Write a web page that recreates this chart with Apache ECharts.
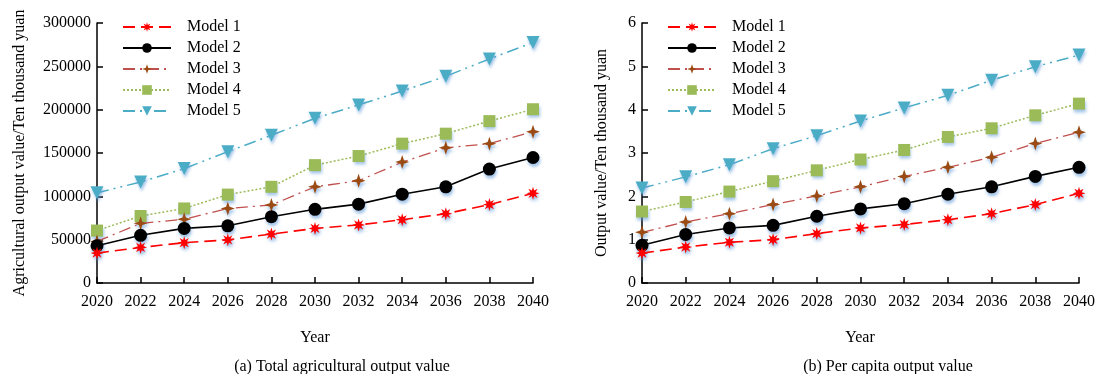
<!DOCTYPE html>
<html><head><meta charset="utf-8">
<script src="https://cdn.jsdelivr.net/npm/echarts@6/dist/echarts.min.js"></script>
<style>html,body{margin:0;padding:0;background:#fff}#c{width:1098px;height:374px}</style>
</head><body><div id="c"></div>
<script>
const years = ['2020','2022','2024','2026','2028','2030','2032','2034','2036','2038','2040'];
const modelNames = ['Model 1','Model 2','Model 3','Model 4','Model 5'];
const totalTicks = [0, 50000, 100000, 150000, 200000, 250000, 300000];
const perTicks = [0, 1, 2, 3, 4, 5, 6];

const totalM1 = [34500, 41000, 46500, 49800, 56500, 63000, 67000, 73000, 80000, 90500, 103500];
const totalM2 = [43000, 55000, 63000, 66000, 76500, 85000, 91000, 102500, 111000, 131500, 144800];
const totalM3 = [48000, 68800, 73500, 86000, 90000, 111000, 118000, 139500, 156000, 160800, 174500];
const totalM4 = [60500, 77300, 86000, 102000, 111000, 136000, 146500, 160800, 172300, 186800, 200500];
const totalM5 = [104000, 116500, 132000, 151500, 170500, 190000, 205500, 221500, 238500, 258500, 277500];

const perM1 = [0.69, 0.83, 0.94, 1.00, 1.14, 1.27, 1.35, 1.46, 1.60, 1.81, 2.07];
const perM2 = [0.87, 1.12, 1.27, 1.33, 1.54, 1.71, 1.83, 2.05, 2.22, 2.46, 2.67];
const perM3 = [1.17, 1.41, 1.60, 1.81, 2.01, 2.22, 2.46, 2.67, 2.90, 3.22, 3.48];
const perM4 = [1.65, 1.87, 2.11, 2.35, 2.60, 2.85, 3.07, 3.37, 3.57, 3.87, 4.14];
const perM5 = [2.19, 2.45, 2.73, 3.10, 3.40, 3.74, 4.04, 4.33, 4.68, 4.99, 5.26];

function starPath(points, inner) {
  let d = '';
  for (let i = 0; i < points * 2; i++) {
    const r = i % 2 === 0 ? 10 : 10 * inner;
    const a = Math.PI * i / points - Math.PI / 2;
    const x = (10 + r * Math.cos(a)).toFixed(2), y = (10 + r * Math.sin(a)).toFixed(2);
    d += (i === 0 ? 'M' : 'L') + x + ' ' + y + ' ';
  }
  return 'path://' + d + 'Z';
}
const star8 = starPath(8, 0.45);
const star4 = starPath(4, 0.35);

const FONT = '"Liberation Serif", "Times New Roman", serif';
const shadow = {shadowColor: 'rgba(90,150,215,0.55)', shadowBlur: 3, shadowOffsetX: 1, shadowOffsetY: 3};

const styles = [
  {color: '#FF0000', lineColor: '#FF0000', type: [12, 6], width: 1.6, symbol: star8, size: 13, rotate: 0},
  {color: '#000000', lineColor: '#000000', type: 'solid', width: 1.6, symbol: 'circle', size: 13, rotate: 0},
  {color: '#9A4A12', lineColor: '#C0504D', type: [12, 5, 2, 5], width: 1.3, symbol: star4, size: 14, rotate: 0},
  {color: '#9BBB59', lineColor: '#9BBB59', type: [2, 2], width: 1.5, symbol: 'rect', size: 12, rotate: 0},
  {color: '#4BACC6', lineColor: '#4BACC6', type: [12, 5, 2, 5, 2, 5], width: 1.5, symbol: 'triangle', size: 13, rotate: 180}
];

const totalData = [totalM1, totalM2, totalM3, totalM4, totalM5];
const perData = [perM1, perM2, perM3, perM4, perM5];

function mkSeries(dataArr, idx) {
  return dataArr.map((d, i) => ({
    name: modelNames[i],
    type: 'line',
    xAxisIndex: idx, yAxisIndex: idx,
    data: d,
    symbol: styles[i].symbol,
    symbolSize: styles[i].size,
    symbolRotate: styles[i].rotate,
    z: 10 - i,
    lineStyle: {color: styles[i].lineColor, type: styles[i].type, width: styles[i].width},
    itemStyle: Object.assign({color: styles[i].color, borderWidth: 0}, shadow),
    emphasis: {disabled: true},
    animation: false
  }));
}

function xAxis(idx) {
  return {
    type: 'category', gridIndex: idx, data: years, boundaryGap: false,
    axisLine: {lineStyle: {color: '#000', width: 1.5}},
    axisTick: {inside: true, length: 6, lineStyle: {color: '#000', width: 1.5}},
    axisLabel: {fontFamily: FONT, fontSize: 16, color: '#000', margin: 11},
    splitLine: {show: false}
  };
}
function yAxis(idx, ticks) {
  return {
    type: 'value', gridIndex: idx, min: ticks[0], max: ticks[ticks.length - 1],
    interval: ticks[1] - ticks[0],
    axisLine: {show: true, lineStyle: {color: '#000', width: 1.5}},
    axisTick: {show: true, inside: true, length: 6, lineStyle: {color: '#000', width: 1.5}},
    axisLabel: {fontFamily: FONT, fontSize: 16, color: '#000', margin: 6, formatter: v => String(v)},
    splitLine: {show: false}
  };
}
function legend(left) {
  return {
    left: left, top: 14, orient: 'vertical', itemWidth: 48, itemHeight: 12, itemGap: 5,
    data: modelNames,
    textStyle: {fontFamily: FONT, fontSize: 16, color: '#000', padding: [0, 0, 0, 11]}
  };
}
function txt(x, y, s, rot) {
  return {type: 'text', x: x, y: y, rotation: rot || 0,
    style: {text: s, fontFamily: FONT, fontSize: 16, fill: '#000', align: 'center', verticalAlign: 'middle'}};
}

const chart = echarts.init(document.getElementById('c'), null, {renderer: 'canvas'});
chart.setOption({
  animation: false,
  backgroundColor: '#fff',
  grid: [
    {left: 97, top: 23, width: 436, height: 260},
    {left: 642, top: 23, width: 437, height: 260}
  ],
  xAxis: [xAxis(0), xAxis(1)],
  yAxis: [yAxis(0, totalTicks), yAxis(1, perTicks)],
  legend: [legend(117), legend(662)],
  series: mkSeries(totalData, 0).concat(mkSeries(perData, 1)),
  graphic: [
    txt(20, 153, 'Agricultural output value/Ten thousand yuan', Math.PI / 2),
    txt(602, 153, 'Output value/Ten thousand yuan', Math.PI / 2),
    txt(315, 338, 'Year'),
    txt(860, 338, 'Year'),
    txt(342, 367, '(a) Total agricultural output value'),
    txt(888, 367, '(b) Per capita output value')
  ]
});
</script>
</body></html>
